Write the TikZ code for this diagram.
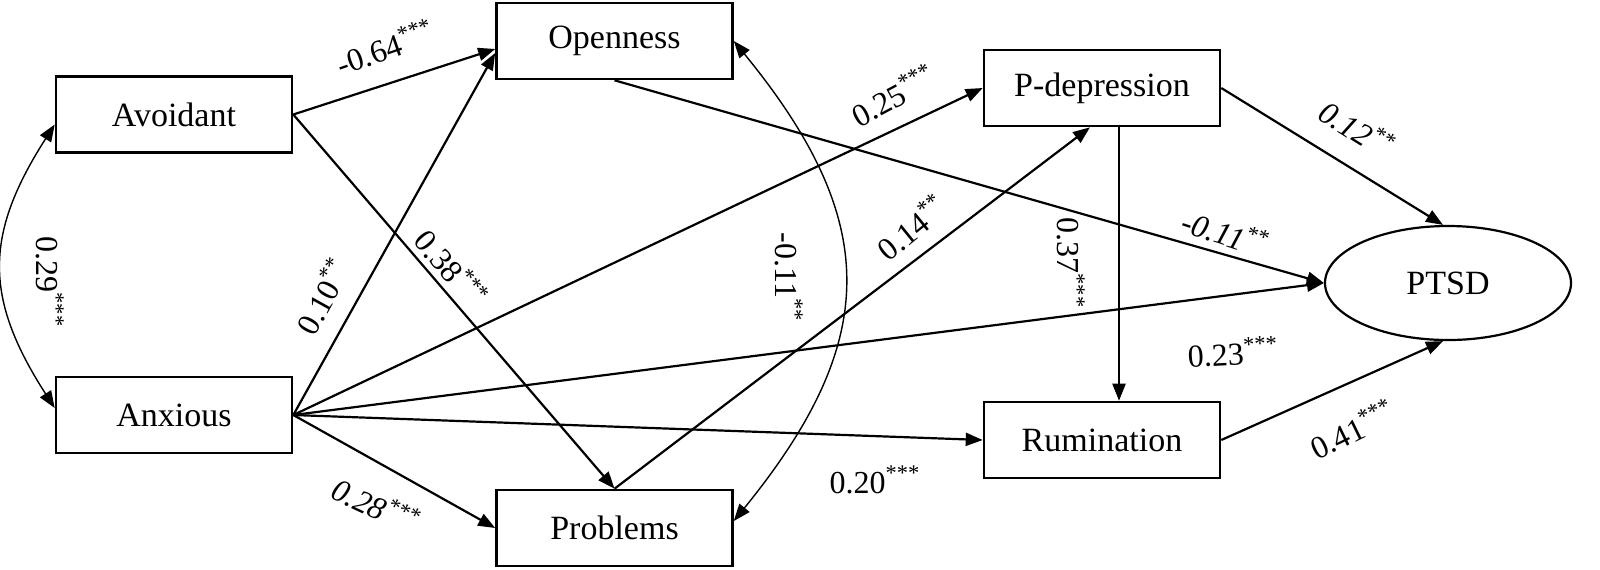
\documentclass[tikz,border=0pt]{standalone}
\usepackage{fontspec}
\setmainfont{Liberation Serif}
\usetikzlibrary{arrows.meta,shapes.geometric}
\begin{document}
\begin{tikzpicture}[x=0.5pt,y=-0.5pt,
  box/.style={draw,line width=1.3pt,minimum width=118pt,minimum height=38pt,inner sep=0pt,font=\fontsize{17}{20}\selectfont},
  oval/.style={ellipse,draw,line width=1.1pt,minimum width=123pt,minimum height=57pt,inner sep=0pt,font=\fontsize{17}{20}\selectfont},
  arr/.style={line width=1.1pt,-{Triangle[length=8.5pt,width=6.5pt]}},
  cov/.style={line width=0.7pt,{Triangle[length=8.5pt,width=6.5pt]}-{Triangle[length=8.5pt,width=6.5pt]}},
  lab/.style={font=\fontsize{16}{18}\selectfont,inner sep=0pt},
  ilab/.style={lab,font=\fontsize{16}{18}\selectfont\itshape}
]
\useasboundingbox (0,0) rectangle (1600,569);
% nodes
\node[box] (Avoidant) at (174,114.5) {Avoidant};
\node[box] (Anxious) at (174,415) {Anxious};
\node[box] (Openness) at (614.5,41) {Openness};
\node[box] (Problems) at (614.5,528) {Problems};
\node[box] (Pdep) at (1102,88) {P-depression};
\node[box] (Rum) at (1102,440) {Rumination};
\node[oval] (PTSD) at (1448,283) {PTSD};
% paths
\draw[arr] (Avoidant.east) -- ([yshift=-4pt]Openness.west);
\draw[arr] (Avoidant.east) -- (Problems.north);
\draw[arr] (Anxious.east) -- ([yshift=-6pt]Openness.west);
\draw[arr] (Anxious.east) -- (Pdep.west);
\draw[arr] (Anxious.east) -- (PTSD.west);
\draw[arr] (Anxious.east) -- (Rum.west);
\draw[arr] (Anxious.east) -- (Problems.west);
\draw[arr] (Openness.south) -- (PTSD.west);
\draw[arr] (Problems.north) -- ([xshift=-6pt]Pdep.south);
\draw[arr] ([xshift=8.5pt]Pdep.south) -- ([xshift=8.5pt]Rum.north);
\draw[arr] (Pdep.east) -- ([xshift=-2.5pt]PTSD.north);
\draw[arr] (Rum.east) -- ([xshift=-2.5pt]PTSD.south);
% covariances
\draw[cov] ([yshift=-5pt]Avoidant.west) .. controls (-16,235) and (-16,298) .. ([yshift=3.5pt]Anxious.west);
\draw[cov] (Openness.east) .. controls (881,221) and (881,340) .. ([yshift=3.5pt]Problems.east);
% labels
\node[lab,rotate=19] (l1) at (385,47) {-0.64\textsuperscript{***}};
\node[lab,rotate=-50] (l2) at (452,268) {0.38\textsuperscript{***}};
\node[lab,rotate=61] (l3) at (322,296) {0.10\textsuperscript{**}};
\node[lab,rotate=-90] (l4) at (50,282) {0.29\textsuperscript{***}};
\node[lab,rotate=-90] (l5) at (789,277) {-0.11\textsuperscript{**}};
\node[lab,rotate=28] (l6) at (893,95) {0.25\textsuperscript{***}};
\node[lab,rotate=39] (l7) at (911,227) {0.14\textsuperscript{**}};
\node[lab,rotate=-90] (l8) at (1071,263) {0.37\textsuperscript{***}};
\node[ilab,rotate=-18] (l9) at (1225,232) {-0.11\textsuperscript{**}};
\node[ilab,rotate=-32] (l10) at (1357,128) {0.12\textsuperscript{**}};
\node[lab,rotate=3] (l11) at (1233,352) {0.23\textsuperscript{***}};
\node[lab,rotate=26] (l12) at (1352,429) {0.41\textsuperscript{***}};
\node[lab] (l13) at (875,480) {0.20\textsuperscript{***}};
\node[ilab,rotate=-25] (l14) at (376,505) {0.28\textsuperscript{***}};
\end{tikzpicture}
\end{document}
